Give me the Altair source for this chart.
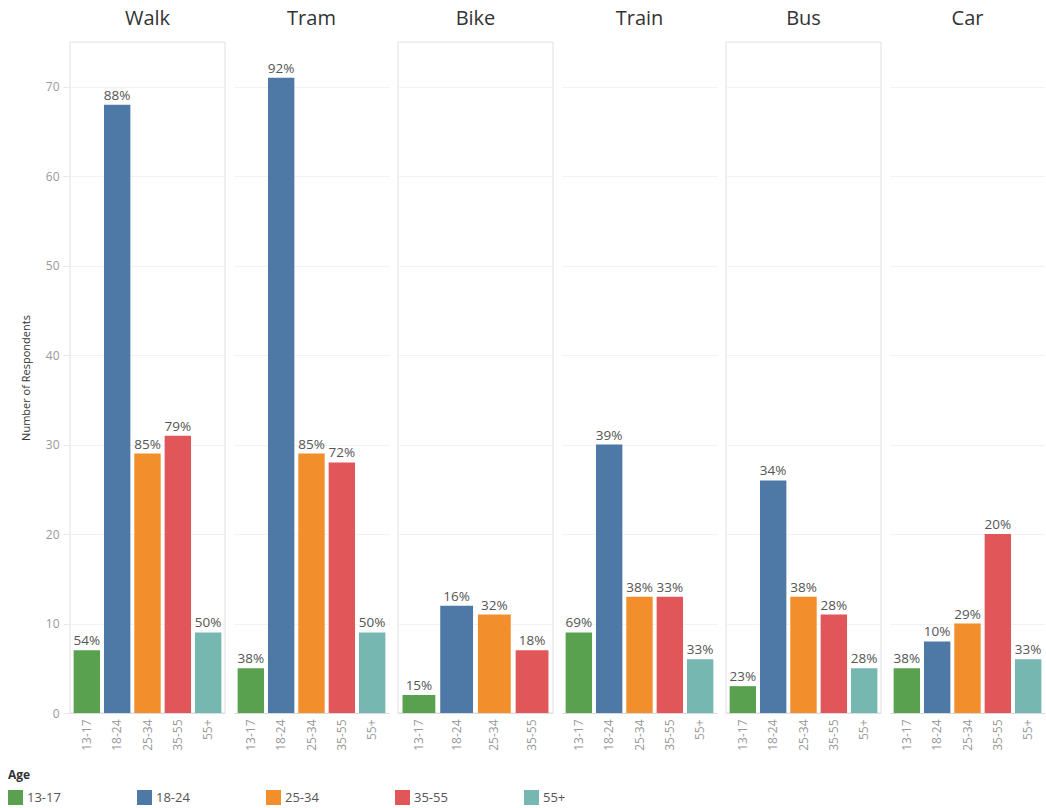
import altair as alt
import pandas as pd

modes = ["Walk", "Tram", "Bike", "Train", "Bus", "Car"]
ages = ["13-17", "18-24", "25-34", "35-55", "55+"]
colors = ["#59A14F", "#4E79A7", "#F28E2B", "#E15759", "#76B7B2"]

counts = {
    "Walk":  [7, 68, 29, 31, 9],
    "Tram":  [5, 71, 29, 28, 9],
    "Bike":  [2, 12, 11, 7, None],
    "Train": [9, 30, 13, 13, 6],
    "Bus":   [3, 26, 13, 11, 5],
    "Car":   [5, 8, 10, 20, 6],
}
pct_labels = {
    "Walk":  ["54%", "88%", "85%", "79%", "50%"],
    "Tram":  ["38%", "92%", "85%", "72%", "50%"],
    "Bike":  ["15%", "16%", "32%", "18%", None],
    "Train": ["69%", "39%", "38%", "33%", "33%"],
    "Bus":   ["23%", "34%", "38%", "28%", "28%"],
    "Car":   ["38%", "10%", "29%", "20%", "33%"],
}

rows = []
for m in modes:
    for a, c, p in zip(ages, counts[m], pct_labels[m]):
        if c is not None:
            rows.append({"Mode": m, "Age": a, "Count": c, "Pct": p})
df = pd.DataFrame(rows)

FONT = "Open Sans"
W = 155
H = 671

x_enc = alt.X("Age:N", sort=ages, title=None,
              scale=alt.Scale(paddingInner=0.13, paddingOuter=0.12),
              axis=alt.Axis(labelAngle=-90, labelColor="#999999", labelFontSize=12,
                            labelFont=FONT, ticks=False, domainColor="#d9d9d9",
                            labelPadding=6, labelBaseline="middle"))
y_enc = alt.Y("Count:Q", title="Number of Respondents",
              scale=alt.Scale(domain=[0, 75], nice=False),
              axis=alt.Axis(values=[0, 10, 20, 30, 40, 50, 60, 70], labelColor="#999999",
                            labelFontSize=12, labelFont=FONT, titleFont=FONT,
                            titleFontSize=11, titleColor="#333333", titleFontWeight="normal",
                            gridColor="#f2f2f2", domain=False, tickColor="#e6e6e6",
                            tickSize=6, labelPadding=4, titlePadding=14))

bars = alt.Chart().mark_bar().encode(
    x=x_enc,
    y=y_enc,
    color=alt.Color("Age:N", sort=ages,
                    scale=alt.Scale(domain=ages, range=colors),
                    legend=alt.Legend(title="Age", orient="none", legendX=-62, legendY=H + 57,
                                      direction="horizontal", columns=5, gridAlign="all",
                                      columnPadding=76, symbolType="square", symbolSize=225,
                                      symbolStrokeWidth=0, labelFontSize=13, labelFont=FONT,
                                      labelColor="#555555", titleFont=FONT, titleFontSize=12,
                                      titleColor="#333333", titleFontWeight="bold",
                                      titlePadding=8)),
)

labels = alt.Chart().mark_text(dy=-9, fontSize=13.5, font=FONT, color="#555555").encode(
    x=alt.X("Age:N", sort=ages),
    y=alt.Y("Count:Q"),
    text="Pct:N",
)

frame = alt.Chart().transform_filter(
    "(datum.Mode == 'Walk' || datum.Mode == 'Bike' || datum.Mode == 'Bus') && datum.Age == '13-17'"
).mark_rect(filled=False, stroke="#e0e0e0", strokeWidth=1).encode(
    x=alt.value(0), x2=alt.value(W), y=alt.value(0), y2=alt.value(H)
)

chart = alt.layer(frame, bars, labels, data=df).properties(
    width=W, height=H
).facet(
    column=alt.Column("Mode:N", sort=modes, title=None,
                      header=alt.Header(labelFontSize=20, labelFont=FONT, labelColor="#333333",
                                        labelOrient="top", labelPadding=12))
).resolve_scale(
    x="independent"
).properties(
    spacing=8, padding={"left": 8, "top": 9, "right": 0, "bottom": 0}
).configure_view(
    stroke=None
)

chart.save("out.html", embed_options={"renderer": "svg", "actions": False})
